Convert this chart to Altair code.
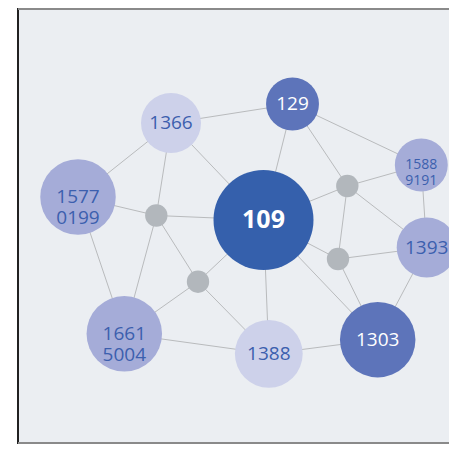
import altair as alt
import pandas as pd

# ---- data ----
node_ids = ["109", "129", "1366", "15770199", "15889191", "1393", "1303", "1388", "16615004",
            "hubA", "hubB", "hubC", "hubD"]
node_labels = ["109", "129", "1366", "1577\n0199", "1588\n9191", "1393", "1303", "1388", "1661\n5004",
               "", "", "", ""]
node_x = [263.5, 292.5, 171, 78, 421.3, 426.7, 377.7, 268.8, 124.3, 156.3, 198, 347.3, 338]
node_y = [220, 104, 123, 197, 165, 247.5, 339.7, 353.8, 333.8, 215.5, 281.7, 186, 259]
node_weight = [100, 28, 36, 57, 28, 36, 57, 46, 57, 5, 5, 5, 5]
node_group = ["core", "strong", "weak", "mid", "mid", "mid", "strong", "weak", "mid",
              "hub", "hub", "hub", "hub"]

edge_src = ["1366", "129", "129", "129", "1366", "1366", "1366", "15770199", "15770199",
            "hubA", "hubA", "hubA", "hubB", "hubB", "hubB", "109", "109", "109", "109",
            "hubC", "hubC", "hubC", "hubD", "hubD", "15889191", "1393", "1388", "1388"]
edge_dst = ["129", "109", "hubC", "15889191", "15770199", "hubA", "109", "hubA", "16615004",
            "109", "16615004", "hubB", "16615004", "1388", "109", "1388", "hubD", "1303", "hubC",
            "15889191", "1393", "hubD", "1393", "1303", "1393", "1303", "16615004", "1303"]

group_domain = ["core", "strong", "mid", "weak", "hub"]
group_colors = ["#3560ac", "#5d74ba", "#a5acd8", "#cdd1ea", "#b2b7bc"]

nodes = pd.DataFrame({"id": node_ids, "label": node_labels, "x": node_x, "y": node_y,
                      "weight": node_weight, "group": node_group})
pos = {i: (x, y) for i, x, y in zip(node_ids, node_x, node_y)}
edges = pd.DataFrame({
    "x": [pos[s][0] for s in edge_src], "y": [pos[s][1] for s in edge_src],
    "x2": [pos[d][0] for d in edge_dst], "y2": [pos[d][1] for d in edge_dst],
})

W, H = 431, 436
xs = alt.Scale(domain=[18, 18 + W], nice=False, zero=False)
ys = alt.Scale(domain=[8 + H, 8], nice=False, zero=False)

edge_layer = alt.Chart(edges).mark_rule(color="#b9bbbd", strokeWidth=1).encode(
    x=alt.X("x:Q", scale=xs, axis=None), y=alt.Y("y:Q", scale=ys, axis=None),
    x2="x2:Q", y2="y2:Q")

node_layer = alt.Chart(nodes).mark_circle(opacity=1).encode(
    x=alt.X("x:Q", scale=xs, axis=None), y=alt.Y("y:Q", scale=ys, axis=None),
    size=alt.Size("weight:Q", scale=alt.Scale(domain=[0, 100], range=[0, 10000]), legend=None),
    color=alt.Color("group:N", scale=alt.Scale(domain=group_domain, range=group_colors), legend=None))

base_text = alt.Chart(nodes).encode(
    x=alt.X("x:Q", scale=xs, axis=None), y=alt.Y("y:Q", scale=ys, axis=None), text="label:N")

core_text = base_text.transform_filter(alt.datum.group == "core").mark_text(
    font="Open Sans", fontSize=25, fontWeight="bold", color="white", baseline="middle")
white_text = base_text.transform_filter(alt.datum.group == "strong").mark_text(
    font="Open Sans", fontSize=19, color="white", baseline="middle")
blue_text = base_text.transform_filter(
    "(datum.group == 'mid' || datum.group == 'weak') && datum.id != '15889191'").mark_text(
    font="Open Sans", fontSize=19, color="#3c5fae", baseline="middle", lineBreak="\n", lineHeight=21)
small_text = base_text.transform_filter(alt.datum.id == "15889191").mark_text(
    font="Open Sans", fontSize=14, color="#3c5fae", baseline="middle", lineBreak="\n", lineHeight=16)

frame_left = alt.Chart(nodes).mark_rule(color="#222222", strokeWidth=1.5).encode(
    x=alt.value(0), y=alt.value(0), y2=alt.value(H))
frame_top = alt.Chart(nodes).mark_rule(color="#8a8a8a", strokeWidth=2).encode(
    x=alt.value(0), x2=alt.value(W), y=alt.value(1))
frame_bottom = alt.Chart(nodes).mark_rule(color="#8a8a8a", strokeWidth=2).encode(
    x=alt.value(0), x2=alt.value(W), y=alt.value(H - 1))

chart = alt.layer(edge_layer, node_layer, core_text, white_text, blue_text, small_text,
                  frame_left, frame_top, frame_bottom).properties(
    width=W, height=H, padding={"left": 10, "top": 0, "right": 0, "bottom": 0},
    autosize=alt.AutoSizeParams(type="none")
).configure_view(fill="#ebeef2", stroke=None)

chart.save("out.html", embed_options={"renderer": "svg", "actions": False})
